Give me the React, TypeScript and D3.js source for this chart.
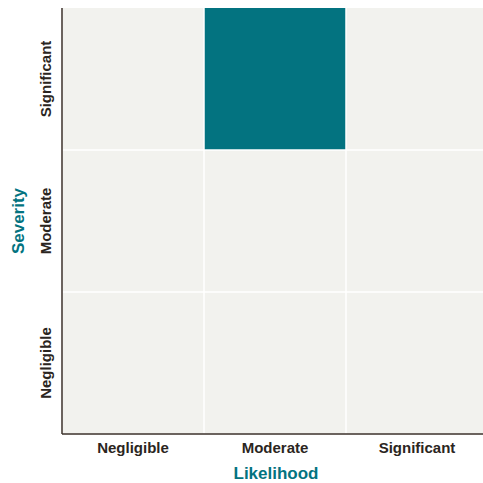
import React from "react";
import * as d3 from "d3";

const likelihood = ["Negligible", "Moderate", "Significant"];
const severity = ["Negligible", "Moderate", "Significant"];
// cells: [likelihood, severity, value]
const cells: [string, string, number][] = [
  ["Negligible", "Negligible", 0],
  ["Moderate", "Negligible", 0],
  ["Significant", "Negligible", 0],
  ["Negligible", "Moderate", 0],
  ["Moderate", "Moderate", 0],
  ["Significant", "Moderate", 0],
  ["Negligible", "Significant", 0],
  ["Moderate", "Significant", 1],
  ["Significant", "Significant", 0],
];

const W = 483, H = 483;
const M = { left: 62, top: 8, right: -5, bottom: 49 };
const FONT = "'Liberation Sans', Arial, sans-serif";
const TEAL = "#037380";
const BG = "#f2f2ee";
const TXT = "#2b2521";

export default function App() {
  const x = d3.scaleBand().domain(likelihood).range([M.left, W - M.right]);
  const y = d3.scaleBand().domain(severity).range([H - M.bottom, M.top]);
  const bw = x.bandwidth(), bh = y.bandwidth();
  return (
    <svg width={W} height={H} style={{ position: "absolute", left: 0, top: 0 }} fontFamily={FONT}>
      <rect x={M.left} y={M.top} width={W - M.right - M.left} height={H - M.bottom - M.top} fill="#ffffff" />
      {cells.map(([l, s, v], i) => (
        <rect key={i} x={x(l)! + 0.75} y={y(s)! + (s === severity[2] ? 0 : 0.75)} width={bw - 1.5}
          height={bh - (s === severity[2] ? 0.75 : 1.5)} fill={v ? TEAL : BG} />
      ))}
      <line x1={M.left} x2={M.left} y1={M.top} y2={H - M.bottom} stroke="#3b302a" strokeWidth={1.5} />
      <line x1={M.left} x2={W} y1={H - M.bottom} y2={H - M.bottom} stroke="#3b302a" strokeWidth={1.5} />
      {likelihood.map((l) => (
        <text key={l} x={x(l)! + bw / 2} y={453} textAnchor="middle" fontSize={15} fontWeight="bold" fill={TXT}>{l}</text>
      ))}
      {severity.map((s) => (
        <text key={s} transform={`translate(51,${y(s)! + bh / 2}) rotate(-90)`} textAnchor="middle" fontSize={15} fontWeight="bold" fill={TXT}>{s}</text>
      ))}
      <text x={276} y={479} textAnchor="middle" fontSize={17} fontWeight="bold" fill={TEAL}>Likelihood</text>
      <text transform={`translate(24,221) rotate(-90)`} textAnchor="middle" fontSize={17} fontWeight="bold" fill={TEAL}>Severity</text>
    </svg>
  );
}
